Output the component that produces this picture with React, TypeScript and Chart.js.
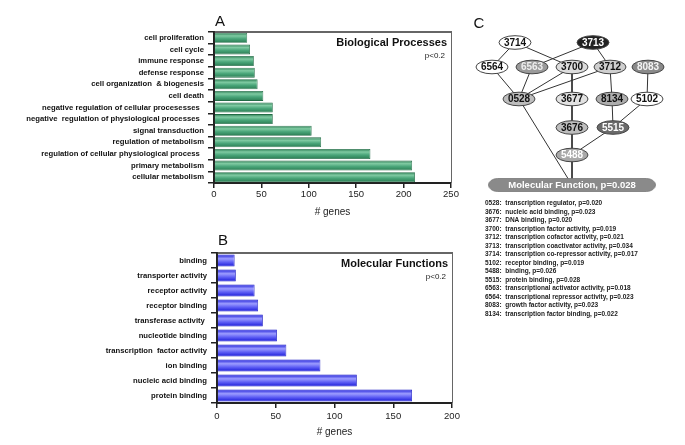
import React, { useEffect, useRef } from 'react';
import { Chart, registerables } from 'chart.js';
Chart.register(...registerables);

const FONT = 'Arial, "Liberation Sans", Helvetica, sans-serif';

// ---------- Panel A data ----------
const bpLabels = [
  'cell proliferation',
  'cell cycle',
  'immune response',
  'defense response',
  'cell organization  & biogenesis',
  'cell death',
  'negative regulation of cellular procesesses  ',
  'negative  regulation of physiological processes  ',
  'signal transduction',
  'regulation of metabolism',
  'regulation of cellular physiological process  ',
  'primary metabolism',
  'cellular metabolism',
];
const bpValues = [35, 38, 42, 43, 46, 52, 62, 62, 103, 113, 165, 209, 212];
const bpTicks = [0, 50, 100, 150, 200, 250];

// ---------- Panel B data ----------
const mfLabels = [
  'binding',
  'transporter activity',
  'receptor activity',
  'receptor binding',
  'transferase activity ',
  'nucleotide binding',
  'transcription  factor activity',
  'ion binding',
  'nucleic acid binding',
  'protein binding',
];
const mfValues = [15, 16, 32, 35, 39, 51, 59, 88, 119, 166];
const mfTicks = [0, 50, 100, 150, 200];

// ---------- Panel C data ----------
const netIds = ['3714', '3713', '6564', '6563', '3700', '3712', '8083', '0528', '3677', '8134', '5102', '3676', '5515', '5488', 'MF'];
const netX = [55, 133, 32, 72, 112, 150, 188, 59, 112, 152, 187, 112, 153, 112, 112];
const netY = [42.5, 42.5, 67, 67, 67, 67, 67, 99, 99, 99, 99, 127.5, 127.5, 155, 185];
const netEdges: [string, string][] = [
  ['3714', '6564'], ['3714', '3700'], ['3713', '6563'], ['3713', '3712'],
  ['6564', '0528'], ['6563', '0528'], ['3700', '0528'], ['3712', '0528'],
  ['3700', '3677'], ['3712', '8134'], ['8083', '5102'], ['3677', '3676'],
  ['8134', '5515'], ['5102', '5515'], ['3676', '5488'], ['5515', '5488'],
  ['5488', 'MF'], ['0528', 'MF'],
];
const mfRootLabel = 'Molecular Function, p=0.028';
const legendLines = [
  '0528:  transcription regulator, p=0.020',
  '3676:  nucleic acid binding, p=0.023',
  '3677:  DNA binding, p=0.020',
  '3700:  transcription factor activity, p=0.019',
  '3712:  transcription cofactor activity, p=0.021',
  '3713:  transcription coactivator activity, p=0.034',
  '3714:  transcription co-repressor activity, p=0.017',
  '5102:  receptor binding, p=0.019',
  '5488:  binding, p=0.026',
  '5515:  protein binding, p=0.028',
  '6563:  transcriptional activator activity, p=0.018',
  '6564:  transcriptional repressor activity, p=0.023',
  '8083:  growth factor activity, p=0.023',
  '8134:  transcription factor binding, p=0.022',
];

// node styles (fill, text colour)
const nodeStyle: Record<string, [string, string]> = {
  '3714': ['#ffffff', '#111'],
  '3713': ['#222222', '#ffffff'],
  '6564': ['#ffffff', '#111'],
  '6563': ['#9a9a9a', '#eeeeee'],
  '3700': ['#dddddd', '#111'],
  '3712': ['#cfcfcf', '#111'],
  '8083': ['#8a8a8a', '#f4f4f4'],
  '0528': ['#bdbdbd', '#111'],
  '3677': ['#e2e2e2', '#111'],
  '8134': ['#adadad', '#111'],
  '5102': ['#ffffff', '#111'],
  '3676': ['#bdbdbd', '#111'],
  '5515': ['#6a6a6a', '#ffffff'],
  '5488': ['#a8a8a8', '#ffffff'],
  'MF': ['#8a8a8a', '#ffffff'],
};

type BarProps = {
  labels: string[];
  values: number[];
  ticks: number[];
  max: number;
  letter: string;
  title: string;
  width: number;
  height: number;
  top: number;
  padTop: number;
  padRight: number;
  yWidth: number;
  xHeight: number;
  barPct: number;
  stops: [number, string][];
  border: string;
  tickPad: number;
  titlePad: number;
  letterOffset: number;
};

function BarPanel(p: BarProps) {
  const ref = useRef<HTMLCanvasElement>(null);
  useEffect(() => {
    if (!ref.current) return;
    const framePlugin = {
      id: 'frame' + p.letter,
      afterDraw(chart: any) {
        const { ctx, chartArea: a } = chart;
        ctx.save();
        ctx.strokeStyle = '#333';
        ctx.lineWidth = 1.5;
        ctx.beginPath();
        ctx.moveTo(a.left, a.top);
        ctx.lineTo(a.right + 1, a.top);
        ctx.stroke();
        ctx.lineWidth = 1;
        ctx.strokeStyle = '#666';
        ctx.beginPath();
        ctx.moveTo(a.right + 0.5, a.top);
        ctx.lineTo(a.right + 0.5, a.bottom);
        ctx.stroke();
        ctx.fillStyle = '#111';
        ctx.font = '15px ' + FONT;
        ctx.textAlign = 'left';
        ctx.textBaseline = 'alphabetic';
        ctx.fillText(p.letter, a.left + 1, a.top - p.letterOffset);
        ctx.font = 'bold 11px ' + FONT;
        ctx.textAlign = 'right';
        ctx.textBaseline = 'middle';
        ctx.fillText(p.title, a.right - 4, a.top + 10.5);
        ctx.font = '8px ' + FONT;
        ctx.fillStyle = '#222';
        ctx.fillText('p<0.2', a.right - 6, a.top + 24);
        ctx.restore();
      },
    };
    const n = p.labels.length;
    const chart = new Chart(ref.current, {
      type: 'bar',
      data: {
        labels: p.labels,
        datasets: [
          {
            data: p.values,
            barPercentage: p.barPct,
            categoryPercentage: 1,
            borderWidth: 0.8,
            borderColor: p.border,
            backgroundColor: (c: any) => {
              const ch = c.chart;
              const ys = ch.scales && ch.scales.y;
              if (!ys || c.type !== 'data') return p.stops[1][1];
              const yc = ys.getPixelForValue(c.dataIndex);
              const h = (ys.height / n) * p.barPct;
              if (!isFinite(yc) || !isFinite(h) || h <= 0) return p.stops[1][1];
              const g = ch.ctx.createLinearGradient(0, yc - h / 2, 0, yc + h / 2);
              p.stops.forEach(([o, col]) => g.addColorStop(o, col));
              return g;
            },
          },
        ],
      },
      options: {
        indexAxis: 'y',
        animation: false,
        responsive: false,
        layout: { padding: { top: p.padTop, right: p.padRight, left: 0, bottom: 0 } },
        plugins: { legend: { display: false }, tooltip: { enabled: false } },
        scales: {
          x: {
            min: 0,
            max: p.max,
            afterBuildTicks: (s: any) => {
              s.ticks = p.ticks.map((v) => ({ value: v }));
            },
            afterFit: (s: any) => {
              s.height = p.xHeight;
              s.paddingLeft = 0;
              s.paddingRight = 0;
              s.paddingTop = 0;
              s.paddingBottom = 0;
            },
            border: { display: true, color: '#222', width: 2 },
            grid: { drawOnChartArea: false, tickLength: 5, color: '#222', lineWidth: 1.5 },
            ticks: { color: '#222', padding: p.tickPad, font: { family: FONT, size: 9.5 } },
            title: {
              display: true,
              text: '# genes',
              color: '#222',
              font: { family: FONT, size: 10 },
              padding: { top: p.titlePad, bottom: p.titlePad },
            },
          },
          y: {
            afterFit: (s: any) => {
              s.width = p.yWidth;
              s.paddingLeft = 0;
              s.paddingRight = 0;
              s.paddingTop = 0;
              s.paddingBottom = 0;
            },
            border: { display: true, color: '#222', width: 2 },
            grid: { drawOnChartArea: false, offset: true, tickLength: 6, color: '#222', lineWidth: 1.5 },
            ticks: { color: '#111', padding: 4, autoSkip: false, font: { family: FONT, size: 7.7, weight: 'bold' } },
          },
        },
      },
      plugins: [framePlugin],
    } as any);
    return () => chart.destroy();
  }, []);
  return (
    <div style={{ position: 'absolute', left: 0, top: p.top, width: p.width, height: p.height }}>
      <canvas ref={ref} width={p.width} height={p.height} style={{ width: p.width, height: p.height, display: 'block' }} />
    </div>
  );
}

function NetworkPanel() {
  const ref = useRef<HTMLCanvasElement>(null);
  useEffect(() => {
    if (!ref.current) return;
    const idx = (id: string) => netIds.indexOf(id);
    const edgeSets = netEdges.map(([a, b]) => ({
      data: [
        { x: netX[idx(a)], y: netY[idx(a)] },
        { x: netX[idx(b)], y: netY[idx(b)] },
      ],
      showLine: true,
      borderColor: '#333',
      borderWidth: 1,
      pointRadius: 0,
    }));
    const nodeSet = {
      data: netIds.map((_, i) => ({ x: netX[i], y: netY[i] })),
      pointRadius: 0,
      showLine: false,
    };
    const nodePlugin = {
      id: 'nodes',
      afterDatasetsDraw(chart: any) {
        const { ctx } = chart;
        const meta = chart.getDatasetMeta(chart.data.datasets.length - 1);
        ctx.save();
        meta.data.forEach((el: any, i: number) => {
          const id = netIds[i];
          const [fill, tc] = nodeStyle[id];
          if (!isFinite(el.x) || !isFinite(el.y)) return;
          if (id === 'MF') {
            const w = 167, h = 13, r = h / 2;
            const x0 = el.x - w / 2, x1 = el.x + w / 2;
            ctx.beginPath();
            ctx.moveTo(x0 + r * 1.4, el.y - r);
            ctx.lineTo(x1 - r * 1.4, el.y - r);
            ctx.ellipse(x1 - r * 1.4, el.y, r * 1.4, r, 0, -Math.PI / 2, Math.PI / 2);
            ctx.lineTo(x0 + r * 1.4, el.y + r);
            ctx.ellipse(x0 + r * 1.4, el.y, r * 1.4, r, 0, Math.PI / 2, (3 * Math.PI) / 2);
            ctx.closePath();
            ctx.fillStyle = fill;
            ctx.fill();
            ctx.lineWidth = 0.8;
            ctx.strokeStyle = '#777';
            ctx.stroke();
            ctx.fillStyle = tc;
            ctx.font = 'bold 9.5px ' + FONT;
            ctx.textAlign = 'center';
            ctx.textBaseline = 'middle';
            ctx.fillText(mfRootLabel, el.x, el.y + 0.5);
            return;
          }
          ctx.beginPath();
          ctx.ellipse(el.x, el.y, 16, 6.8, 0, 0, Math.PI * 2);
          ctx.fillStyle = fill;
          ctx.fill();
          ctx.lineWidth = 1;
          ctx.strokeStyle = '#444';
          ctx.stroke();
          ctx.fillStyle = tc;
          ctx.font = 'bold 10px ' + FONT;
          ctx.textAlign = 'center';
          ctx.textBaseline = 'middle';
          ctx.fillText(id, el.x, el.y + 0.5);
        });
        // panel letter
        ctx.fillStyle = '#111';
        ctx.font = '15px ' + FONT;
        ctx.textAlign = 'left';
        ctx.textBaseline = 'alphabetic';
        ctx.fillText('C', 13.5, 28);
        // legend
        ctx.font = 'bold 6.5px ' + FONT;
        ctx.fillStyle = '#222';
        ctx.textBaseline = 'middle';
        legendLines.forEach((t, i) => ctx.fillText(t, 25, 203.3 + i * 8.5));
        ctx.restore();
      },
    };
    const chart = new Chart(ref.current, {
      type: 'scatter',
      data: { datasets: [...edgeSets, nodeSet] },
      options: {
        animation: false,
        responsive: false,
        layout: { padding: 0 },
        plugins: { legend: { display: false }, tooltip: { enabled: false } },
        scales: {
          x: { type: 'linear', min: 0, max: 225, display: false },
          y: { type: 'linear', min: 0, max: 445, reverse: true, display: false },
        },
      },
      plugins: [nodePlugin],
    } as any);
    return () => chart.destroy();
  }, []);
  return (
    <div style={{ position: 'absolute', left: 460, top: 0, width: 225, height: 445 }}>
      <canvas ref={ref} width={225} height={445} style={{ width: 225, height: 445, display: 'block' }} />
    </div>
  );
}

export default function App() {
  return (
    <div style={{ position: 'fixed', left: 0, top: 0, width: 685, height: 445, background: '#fff', overflow: 'hidden' }}>
      <BarPanel
        labels={bpLabels}
        values={bpValues}
        ticks={bpTicks}
        max={250}
        letter="A"
        title="Biological Processes"
        width={460}
        height={222}
        top={0}
        padTop={32}
        padRight={9}
        yWidth={214}
        xHeight={39}
        barPct={0.86}
        stops={[[0, '#2a7c52'], [0.3, '#7fcaa2'], [0.6, '#49a579'], [1, '#2a7c52']]}
        border="#226b45"
        tickPad={1}
        titlePad={4}
        letterOffset={6}
      />
      <BarPanel
        labels={mfLabels}
        values={mfValues}
        ticks={mfTicks}
        max={200}
        letter="B"
        title="Molecular Functions"
        width={460}
        height={223}
        top={222}
        padTop={31}
        padRight={8}
        yWidth={217}
        xHeight={42}
        barPct={0.8}
        stops={[[0, '#1a1ad6'], [0.35, '#9c9cff'], [0.65, '#5c5cf4'], [1, '#1a1ad6']]}
        border="#1414c0"
        tickPad={3}
        titlePad={7}
        letterOffset={8}
      />
      <NetworkPanel />
    </div>
  );
}
